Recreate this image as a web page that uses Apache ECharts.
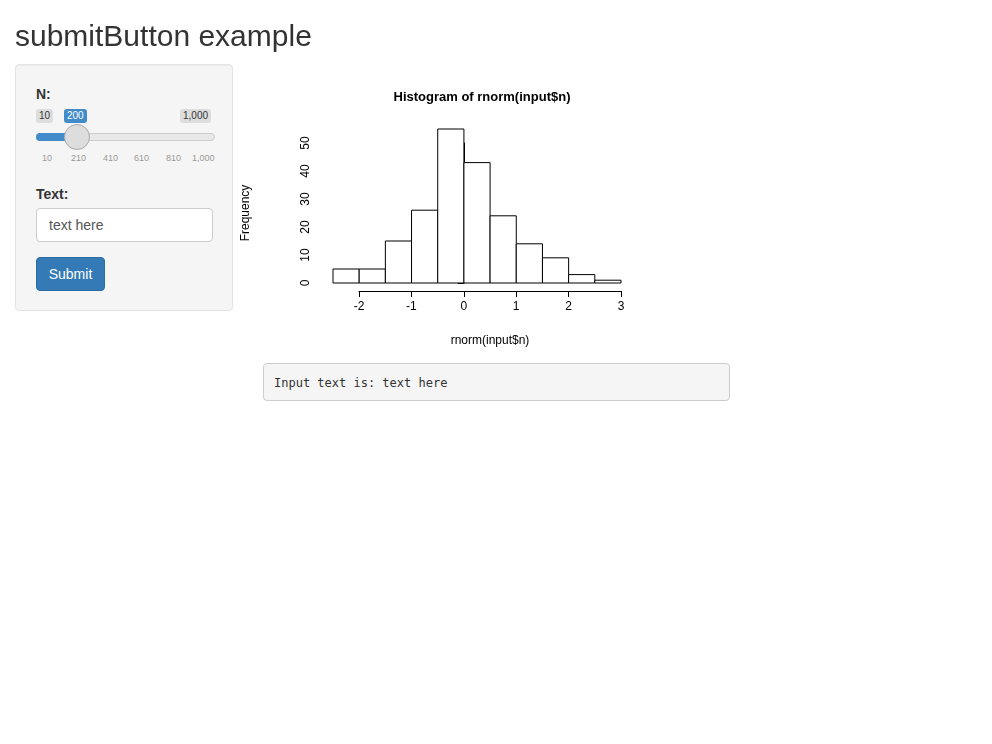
<!DOCTYPE html>
<html lang="en">
<head>
<meta charset="UTF-8">
<title>submitButton example</title>
<script src="https://cdn.jsdelivr.net/npm/echarts@6/dist/echarts.min.js"></script>
<style>
  body { margin:0; font-family:"Liberation Sans", Arial, sans-serif; color:#333; }
  #main { position:absolute; left:0; top:0; width:992px; height:744px; }
  h2 { position:absolute; left:15px; top:18px; margin:0; font-weight:normal; font-size:30px; line-height:36px; }
  .well { position:absolute; left:15px; top:64px; width:216px; height:245px; background:#f5f5f5; border:1px solid #e3e3e3; border-radius:4px; box-shadow: inset 0 1px 1px rgba(0,0,0,.05); }
  .lab { position:absolute; font-weight:bold; font-size:14px; }
  .tag { position:absolute; font-size:10px; padding:1px 3px; border-radius:3px; background:#ddd; line-height:12px; }
  .bar { position:absolute; left:20px; top:133px; width:177px; height:6px; border-radius:4px; background:#e8e8e8; border:1px solid #ccc; }
  .fill { position:absolute; left:20px; top:133px; width:40px; height:8px; border-radius:4px 0 0 4px; background:#428bca; }
  .knob { position:absolute; left:48px; top:122px; width:26px; height:26px; border-radius:50%; background:#ddd; border:1px solid #aaa; box-sizing:border-box; }
  .ticks { position:absolute; top:152px; font-size:9px; color:#999; }
  input { position:absolute; left:20px; top:143px; width:177px; height:34px; box-sizing:border-box; border:1px solid #ccc; border-radius:4px; padding:6px 12px; font-size:14px; font-family:inherit; color:#555; }
  button { position:absolute; left:20px; top:192px; width:69px; height:34px; background:#337ab7; border:1px solid #2e6da4; border-radius:4px; color:#fff; font-size:14px; font-family:inherit; }
  pre { position:absolute; left:263px; top:363px; width:445px; height:18px; margin:0; padding:9px 10px; background:#f5f5f5; border:1px solid #ccc; border-radius:4px; font-family:"DejaVu Sans Mono", monospace; font-size:12px; line-height:20px; color:#333; }
</style>
</head>
<body>
<div id="main"></div>
<h2>submitButton example</h2>
<div class="well">
  <div class="lab" style="left:20px;top:21px;">N:</div>
  <div class="tag" style="left:20px;top:44px;">10</div>
  <div class="tag" style="left:48px;top:44px;background:#428bca;color:#fff;">200</div>
  <div class="tag" style="left:164px;top:44px;">1,000</div>
  <div class="bar" style="top:68px;"></div>
  <div class="fill" style="top:68px;"></div>
  <div class="knob" style="top:59px;"></div>
  <div class="ticks" style="left:26px;top:88px;">10</div>
  <div class="ticks" style="left:55px;top:88px;">210</div>
  <div class="ticks" style="left:87px;top:88px;">410</div>
  <div class="ticks" style="left:118px;top:88px;">610</div>
  <div class="ticks" style="left:150px;top:88px;">810</div>
  <div class="ticks" style="left:176px;top:88px;">1,000</div>
  <div class="lab" style="left:20px;top:121px;">Text:</div>
  <input value="text here">
  <button>Submit</button>
</div>
<pre>Input text is: text here</pre>
<script type="text/javascript">
    // histogram bins of rnorm(200), width 0.5
    var binStart = [-2.5, -2, -1.5, -1, -0.5, 0, 0.5, 1, 1.5, 2, 2.5];
    var binEnd = [-2, -1.5, -1, -0.5, 0, 0.5, 1, 1.5, 2, 2.5, 3];
    var counts = [5, 5, 15, 26, 55, 43, 24, 14, 9, 3, 1];

    var data = binStart.map(function (s, i) { return [s, binEnd[i], counts[i]]; });
    var myChart = echarts.init(document.getElementById('main'));
    var txt = { color: '#000', fontSize: 12, fontFamily: 'Liberation Sans' };
    var option = {
        animation: false,
        title: {
            text: 'Histogram of rnorm(input$n)', left: 477, top: 86, textAlign: 'center',
            textStyle: { fontSize: 13, fontWeight: 'bold', color: '#000', fontFamily: 'Liberation Sans' }
        },
        grid: [
            { left: 333, width: 288, top: 129, height: 154 },
            { left: 359, width: 262, top: 143, height: 140 }
        ],
        xAxis: [
            { gridIndex: 0, type: 'value', min: -2.5, max: 3, show: false },
            {
                gridIndex: 1, type: 'value', min: -2, max: 3, interval: 1, offset: 8,
                axisLine: { show: true, onZero: false, lineStyle: { color: '#000' } },
                axisTick: { show: true, length: 6, lineStyle: { color: '#000' } },
                axisLabel: Object.assign({ margin: 10 }, txt),
                splitLine: { show: false },
                name: 'rnorm(input$n)', nameLocation: 'middle', nameGap: 44, nameTextStyle: txt
            }
        ],
        yAxis: [
            { gridIndex: 0, type: 'value', min: 0, max: 55, show: false },
            {
                gridIndex: 1, type: 'value', min: 0, max: 50, interval: 10, offset: 37,
                axisLine: { show: true, lineStyle: { color: '#000' } },
                axisTick: { show: true, length: 6, lineStyle: { color: '#000' } },
                axisLabel: Object.assign({ rotate: 90, margin: 10 }, txt),
                splitLine: { show: false },
                name: 'Frequency', nameLocation: 'middle', nameGap: 70, nameRotate: 90, nameTextStyle: txt
            }
        ],
        series: [{
            type: 'custom', xAxisIndex: 0, yAxisIndex: 0, data: data,
            renderItem: function (params, api) {
                var p0 = api.coord([api.value(0), api.value(2)]);
                var p1 = api.coord([api.value(1), 0]);
                return {
                    type: 'rect',
                    shape: { x: p0[0], y: p0[1], width: p1[0] - p0[0], height: p1[1] - p0[1] },
                    style: { fill: '#fff', stroke: '#000', lineWidth: 1 }
                };
            }
        }]
    };
    myChart.setOption(option);
</script>
</body>
</html>
